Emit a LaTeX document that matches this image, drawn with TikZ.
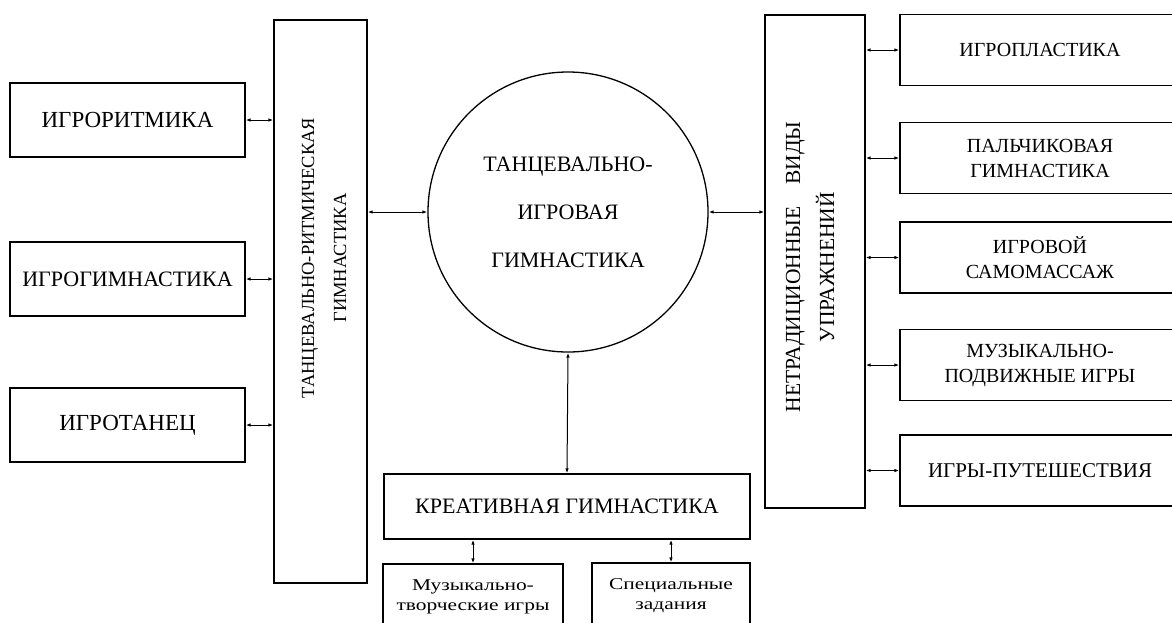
\documentclass[tikz,border=0pt]{standalone}
\usepackage{fontspec}
\setmainfont{Liberation Serif}
\newfontfamily\widefont[FakeStretch=1.3]{Liberation Serif}
\usetikzlibrary{arrows.meta}
\begin{document}
\begin{tikzpicture}[x=1pt,y=1pt,line width=1.3pt]
\tikzstyle{every node}+=[inner sep=0pt]
\tikzstyle{box}=[draw,rectangle,align=center]
\tikzstyle{conn}=[{Latex[length=5pt,width=3.5pt]}-{Latex[length=5pt,width=3.5pt]},line width=1pt]
\useasboundingbox (0,0) rectangle (1172,-622);
\clip (0,0) rectangle (1172,-622);
\node [draw,circle,minimum size=280,align=center,font=\fontsize{22}{48}\selectfont] (hub) at (568,-212) {ТАНЦЕВАЛЬНО-\\ИГРОВАЯ\\ГИМНАСТИКА};
\node [box,minimum width=93,minimum height=563] (lbar) at (320.5,-301.5) {};
\node [rotate=90,align=center,font=\fontsize{18.5}{32}\selectfont] (lbartext) at (324,-258) {ТАНЦЕВАЛЬНО-РИТМИЧЕСКАЯ\\ГИМНАСТИКА};
\node [box,minimum width=100,minimum height=493] (rbar) at (815,-261.5) {};
\node [rotate=90,align=center,font=\fontsize{21.5}{34}\selectfont] (rbartext) at (810,-267) {НЕТРАДИЦИОННЫЕ\quad ВИДЫ\\УПРАЖНЕНИЙ};
\node [box,minimum width=235,minimum height=74,font=\fontsize{23}{25}\selectfont] (ritm) at (127.5,-120) {ИГРОРИТМИКА};
\node [box,minimum width=235,minimum height=74,font=\fontsize{22}{25}\selectfont] (gymn) at (127.5,-279) {ИГРОГИМНАСТИКА};
\node [box,minimum width=235,minimum height=74,font=\fontsize{23}{25}\selectfont] (dance) at (127.5,-425) {ИГРОТАНЕЦ};
\node [box,minimum width=280,minimum height=71,font=\fontsize{20}{25}\selectfont] (plast) at (1040,-50) {ИГРОПЛАСТИКА};
\node [box,minimum width=280,minimum height=71,font=\fontsize{20}{25}\selectfont] (finger) at (1040,-158) {ПАЛЬЧИКОВАЯ\\ГИМНАСТИКА};
\node [box,minimum width=280,minimum height=71,font=\fontsize{20}{25}\selectfont] (massage) at (1040,-257.5) {ИГРОВОЙ\\САМОМАССАЖ};
\node [box,minimum width=280,minimum height=71,font=\fontsize{20}{25}\selectfont] (mobile) at (1040,-365) {МУЗЫКАЛЬНО-\\ПОДВИЖНЫЕ ИГРЫ};
\node [box,minimum width=280,minimum height=71,font=\fontsize{21}{25}\selectfont] (travel) at (1040,-470.5) {ИГРЫ-ПУТЕШЕСТВИЯ};
\node [box,minimum width=366,minimum height=65,font=\fontsize{22}{25}\selectfont] (kreat) at (567,-506.5) {КРЕАТИВНАЯ ГИМНАСТИКА};
\node [box,minimum width=180,minimum height=66,font=\widefont\fontsize{16.5}{20}\selectfont] (musgame) at (473,-597) {Музыкально-\\творческие игры};
\node [box,minimum width=158,minimum height=66,font=\widefont\fontsize{16.5}{20}\selectfont] (tasks) at (671,-596) {Специальные\\задания};
% left side
\draw [conn] (ritm.east) -- (ritm.east -| lbar.west);
\draw [conn] (gymn.east) -- (gymn.east -| lbar.west);
\draw [conn] (dance.east) -- (dance.east -| lbar.west);
\draw [conn] (lbar.east |- hub.west) -- (hub.west);
% right side
\draw [conn] (hub.east) -- (hub.east -| rbar.west);
\draw [conn] (rbar.east |- plast.west) -- (plast.west);
\draw [conn] (rbar.east |- finger.west) -- (finger.west);
\draw [conn] (rbar.east |- massage.west) -- (massage.west);
\draw [conn] (rbar.east |- mobile.west) -- (mobile.west);
\draw [conn] (rbar.east |- travel.west) -- (travel.west);
% bottom
\draw [conn] (hub.south) -- (kreat.north);
\draw [conn] (kreat.south -| musgame.north) -- (musgame.north);
\draw [conn] (kreat.south -| tasks.north) -- (tasks.north);
\end{tikzpicture}
\end{document}
